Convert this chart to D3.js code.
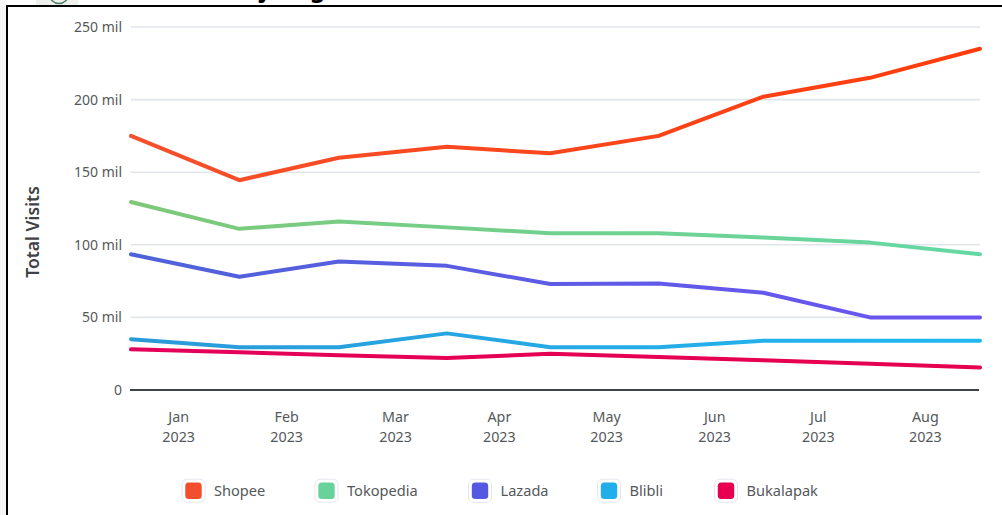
<!DOCTYPE html>
<html>
<head>
<meta charset="utf-8">
<script src="https://cdn.jsdelivr.net/npm/d3@7"></script>
<style>
  html, body { margin: 0; padding: 0; background: #fff; overflow: hidden; }
  text { font-family: "Noto Sans", sans-serif; }
</style>
</head>
<body>
<div id="chart"></div>
<script>
// Set up SVG dimensions
var w = 1002;
var h = 515;

// Data points (values in millions)
var pointDates = ["2023-01-01", "2023-02-01", "2023-03-01T12:00Z", "2023-04-01T10:00Z", "2023-05-01", "2023-06-01", "2023-07-01", "2023-07-31T12:00Z", "2023-09-01"];
var shopee = [175, 144.5, 160, 167.5, 163, 175, 202, 215, 235];
var tokopedia = [129.5, 111, 116, 112, 108, 108, 105, 101.5, 93.5];
var lazada = [93.5, 78, 88.5, 85.5, 73, 73.3, 67, 50, 50];
var blibli = [35, 29.5, 29.5, 39, 29.5, 29.5, 34, 34, 34];
var bukalapak = [28, 26, 24, 22, 25, 22.7, 20.5, 18, 15.5];

var seriesNames = ["Shopee", "Tokopedia", "Lazada", "Blibli", "Bukalapak"];
var seriesValues = [shopee, tokopedia, lazada, blibli, bukalapak];
var legendColors = ["#f24e2e", "#69d29a", "#5558e0", "#22aeea", "#e6004f"];
// Each line drifts slightly in colour from left to right
var lineStart = ["#f5502c", "#7ec878", "#4f62d8", "#2a9ad8", "#e4005a"];
var lineEnd = ["#ff3c0c", "#64d8a4", "#6c54f2", "#20b8f2", "#e6004f"];

// Tick labels
var yTicks = [0, 50, 100, 150, 200, 250];
var monthLabels = ["Jan", "Feb", "Mar", "Apr", "May", "Jun", "Jul", "Aug"];
var monthTickDates = ["2023-01-14T12:00Z", "2023-02-14T10:00Z", "2023-03-17T14:00Z", "2023-04-16T07:00Z", "2023-05-17T00:00Z", "2023-06-16T22:00Z", "2023-07-16T14:00Z", "2023-08-16T05:00Z"];

var svg = d3.select("#chart").append("svg")
    .attr("width", w)
    .attr("height", h)
    .style("display", "block");

// Cropped page above and left of the frame
svg.append("rect").attr("width", 6).attr("height", h).attr("fill", "#f6f6f6");
svg.append("rect").attr("x", 36).attr("width", 42).attr("height", 5).attr("fill", "#eef0ee");
svg.append("circle").attr("cx", 59).attr("cy", -6).attr("r", 9.5)
    .attr("fill", "none").attr("stroke", "#4c7d66").attr("stroke-width", 1.5);
svg.append("text").attr("x", 260).attr("y", -3).attr("font-size", 24).attr("font-weight", 700)
    .attr("font-family", "Liberation Serif").text("j");
svg.append("text").attr("x", 310).attr("y", -3).attr("font-size", 24).attr("font-weight", 700)
    .attr("font-family", "Liberation Serif").text("g");

// Black frame, open at the right and bottom
svg.append("path")
    .attr("d", "M7," + h + "V6H" + w)
    .attr("fill", "none")
    .attr("stroke", "#000")
    .attr("stroke-width", 2);

// Scales
var xScale = d3.scaleUtc()
    .domain([new Date(pointDates[0]), new Date(pointDates[pointDates.length - 1])])
    .range([131, 980]);

var yScale = d3.scaleLinear()
    .domain([0, 250])
    .range([390, 27]);

// Gridlines, with the zero line darker
svg.append("g").selectAll("line")
    .data(yTicks)
    .enter()
    .append("line")
    .attr("x1", function(d) { return d === 0 ? 130 : 131; })
    .attr("x2", function(d) { return d === 0 ? 979 : 980; })
    .attr("y1", function(d) { return yScale(d); })
    .attr("y2", function(d) { return yScale(d); })
    .attr("stroke", function(d) { return d === 0 ? "#3f4244" : "#e1e5ea"; })
    .attr("stroke-width", function(d) { return d === 0 ? 2 : 1.6; });

// Y axis labels
var yAxis = d3.axisLeft(yScale)
    .tickValues(yTicks)
    .tickSize(0)
    .tickPadding(9)
    .tickFormat(function(d) { return d === 0 ? "0" : d + " mil"; });

var yG = svg.append("g")
    .attr("transform", "translate(131,0)")
    .call(yAxis);
yG.select(".domain").remove();
yG.selectAll("text")
    .attr("font-size", 14)
    .attr("fill", "#55585a")
    .attr("dy", "0.32em");

// X axis labels, month over year
var xAxis = d3.axisBottom(xScale)
    .tickValues(monthTickDates.map(function(d) { return new Date(d); }))
    .tickSize(0)
    .tickFormat("");

var xG = svg.append("g")
    .attr("transform", "translate(0,390)")
    .call(xAxis);
xG.select(".domain").remove();
xG.selectAll(".tick text").remove();
xG.selectAll(".tick").each(function(d, i) {
    var tick = d3.select(this);
    tick.append("text").attr("y", 32).attr("text-anchor", "middle")
        .attr("font-size", 14.3).attr("fill", "#55585a").text(monthLabels[i]);
    tick.append("text").attr("y", 52).attr("text-anchor", "middle")
        .attr("font-size", 14.3).attr("fill", "#55585a").text("2023");
});

// Y axis title
svg.append("text")
    .attr("transform", "translate(39,232) rotate(-90)")
    .attr("text-anchor", "middle")
    .attr("font-size", 17.5)
    .attr("font-weight", 600)
    .attr("fill", "#3f4244")
    .text("Total Visits");

// Horizontal gradients for the lines
var defs = svg.append("defs");
seriesNames.forEach(function(name, i) {
    var grad = defs.append("linearGradient")
        .attr("id", "grad" + i)
        .attr("gradientUnits", "userSpaceOnUse")
        .attr("x1", 131).attr("x2", 980).attr("y1", 0).attr("y2", 0);
    grad.append("stop").attr("offset", "0%").attr("stop-color", lineStart[i]);
    grad.append("stop").attr("offset", "100%").attr("stop-color", lineEnd[i]);
});

// Lines
var line = d3.line()
    .x(function(d, i) { return xScale(new Date(pointDates[i])); })
    .y(function(d) { return yScale(d); });

svg.append("g").selectAll("path")
    .data(seriesValues)
    .enter()
    .append("path")
    .attr("d", line)
    .attr("fill", "none")
    .attr("stroke", function(d, i) { return "url(#grad" + i + ")"; })
    .attr("stroke-width", 4)
    .attr("stroke-linejoin", "round")
    .attr("stroke-linecap", "round");

// Legend
var legendX = [193.5, 326.5, 480, 609, 726];
var legend = svg.append("g").selectAll("g")
    .data(seriesNames)
    .enter()
    .append("g")
    .attr("transform", function(d, i) { return "translate(" + legendX[i] + ",490.7)"; });

legend.append("rect")
    .attr("x", -11.5).attr("y", -11.5)
    .attr("width", 23).attr("height", 23)
    .attr("rx", 5)
    .attr("fill", "#fff")
    .attr("stroke", "#e3e7ee")
    .attr("stroke-width", 1);

legend.append("rect")
    .attr("x", -8.2).attr("y", -8.2)
    .attr("width", 16.4).attr("height", 16.4)
    .attr("rx", 3.5)
    .attr("fill", function(d, i) { return legendColors[i]; });

legend.append("text")
    .attr("x", 20.5)
    .attr("y", 5.5)
    .attr("font-size", 14.6)
    .attr("fill", "#55585a")
    .text(function(d) { return d; });
</script>
</body>
</html>
